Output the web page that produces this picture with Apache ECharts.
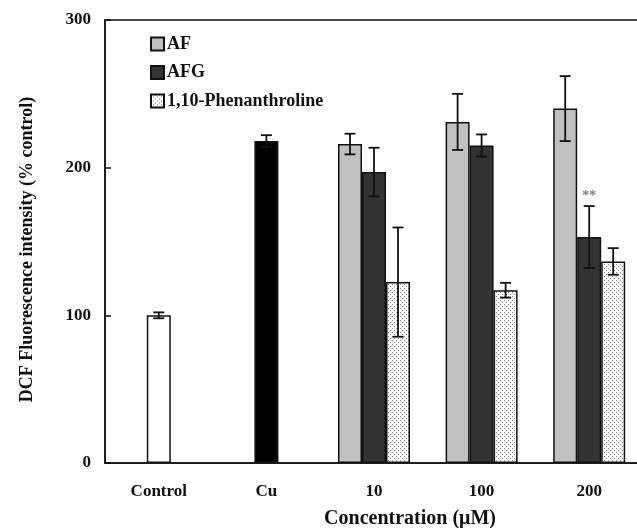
<!DOCTYPE html>
<html>
<head>
<meta charset="utf-8">
<script src="https://cdn.jsdelivr.net/npm/echarts@6/dist/echarts.min.js"></script>
<style>html,body{margin:0;padding:0;background:#fff;}#c{width:637px;height:528px;}</style>
</head>
<body>
<div id="c"></div>
<script>
// ---- data ----
var categories = ['Control', 'Cu', '10', '100', '200'];
var controlVal = [100, '-', '-', '-', '-'];
var controlErr = [2, null, null, null, null];
var cuVal = ['-', 218, '-', '-', '-'];
var cuErr = [null, 4, null, null, null];
var afVal = ['-', '-', 216, 231, 240];
var afErr = [null, null, 7, 19, 22];
var afgVal = ['-', '-', 197, 215, 153];
var afgErr = [null, null, 16.5, 7.5, 21];
var phenVal = ['-', '-', 122.5, 117, 136.5];
var phenErr = [null, null, 37, 5, 9];
var afgSig = ['', '', '', '', '**'];
var yTicks = [0, 100, 200, 300];

var FONT = '"Liberation Serif", "Times New Roman", serif';
var BAR_W = 24;

// dotted pattern
var pc = document.createElement('canvas');
pc.width = 4; pc.height = 4;
var pctx = pc.getContext('2d');
pctx.fillStyle = '#ffffff'; pctx.fillRect(0, 0, 4, 4);
pctx.fillStyle = '#7a7a7a';
pctx.fillRect(0, 0, 1, 1);
pctx.fillRect(2, 2, 1, 1);
var dotPattern = { image: pc, repeat: 'repeat' };

function errRows(vals, errs, slot, sig) {
  var rows = [];
  for (var i = 0; i < vals.length; i++) {
    if (vals[i] === '-' || errs[i] == null) continue;
    rows.push([i, vals[i], errs[i], slot, sig ? sig[i] : '']);
  }
  return rows;
}
var errData = []
  .concat(errRows(controlVal, controlErr, 0))
  .concat(errRows(cuVal, cuErr, 0))
  .concat(errRows(afVal, afErr, -1))
  .concat(errRows(afgVal, afgErr, 0, afgSig))
  .concat(errRows(phenVal, phenErr, 1));

var chart = echarts.init(document.getElementById('c'));
var borderStyle = { borderColor: '#111', borderWidth: 1.5 };

chart.setOption({
  animation: false,
  backgroundColor: '#fff',
  grid: { left: 105, top: 20, width: 538, bottom: 65, show: true, borderColor: '#111', borderWidth: 1.5,
    backgroundColor: 'transparent', outerBoundsMode: 'none', containLabel: false },
  legend: {
    orient: 'vertical', left: 145, top: 30, itemWidth: 13, itemHeight: 13, itemGap: 10.5,
    icon: 'rect',
    textStyle: { fontFamily: FONT, fontWeight: 'bold', fontSize: 18, color: '#111', padding: [0, 0, 0, -2] },
    data: ['AF', 'AFG', '1,10-Phenanthroline']
  },
  xAxis: {
    type: 'category', data: categories,
    axisLine: { lineStyle: { color: '#111', width: 1.5 } },
    axisTick: { inside: true, length: 6, lineStyle: { color: '#111', width: 1.5 } },
    axisLabel: { fontFamily: FONT, fontWeight: 'bold', fontSize: 17, color: '#111', margin: 20 },
    name: 'Concentration (μM)', nameLocation: 'middle', nameGap: 46,
    nameTextStyle: { fontFamily: FONT, fontWeight: 'bold', fontSize: 20, color: '#111', padding: [0, 0, 0, 72] }
  },
  yAxis: {
    type: 'value', min: 0, max: 300, interval: 100,
    axisLine: { show: true, lineStyle: { color: '#111', width: 1.5 } },
    axisTick: { show: true, inside: true, length: 6, lineStyle: { color: '#111', width: 1.5 } },
    splitLine: { show: false },
    axisLabel: { fontFamily: FONT, fontWeight: 'bold', fontSize: 17, color: '#111', margin: 14,
      formatter: function (v) { return yTicks.indexOf(v) >= 0 ? String(v) : ''; } },
    name: 'DCF Fluorescence intensity (% control)', nameLocation: 'middle', nameGap: 69,
    nameTextStyle: { fontFamily: FONT, fontWeight: 'bold', fontSize: 18, color: '#111', padding: [0, 16, 0, 0] }
  },
  series: [
    { name: 'AF', type: 'bar', data: afVal, barWidth: BAR_W, barGap: '0%',
      itemStyle: Object.assign({ color: '#c0c0c0' }, borderStyle) },
    { name: 'Control', type: 'bar', stack: 'mid', data: controlVal, barWidth: BAR_W, barGap: '0%',
      itemStyle: Object.assign({ color: '#ffffff' }, borderStyle) },
    { name: 'Cu', type: 'bar', stack: 'mid', data: cuVal, barWidth: BAR_W, barGap: '0%',
      itemStyle: Object.assign({ color: '#000000' }, borderStyle) },
    { name: 'AFG', type: 'bar', stack: 'mid', data: afgVal, barWidth: BAR_W, barGap: '0%',
      itemStyle: Object.assign({ color: '#333333' }, borderStyle) },
    { name: '1,10-Phenanthroline', type: 'bar', data: phenVal, barWidth: BAR_W, barGap: '0%',
      itemStyle: Object.assign({ color: dotPattern }, borderStyle) },
    { name: 'err', type: 'custom', data: errData, z: 10,
      encode: { x: 0, y: 1 },
      renderItem: function (params, api) {
        var cat = api.value(0), mean = api.value(1), err = api.value(2), slot = api.value(3);
        var sig = errData[params.dataIndex][4];
        var hi = api.coord([cat, mean + err]);
        var lo = api.coord([cat, mean - err]);
        var x = hi[0] + slot * BAR_W;
        var cap = 5.5;
        var st = { stroke: '#111', lineWidth: 1.8 };
        var children = [
          { type: 'line', shape: { x1: x, y1: hi[1], x2: x, y2: lo[1] }, style: st },
          { type: 'line', shape: { x1: x - cap, y1: hi[1], x2: x + cap, y2: hi[1] }, style: st },
          { type: 'line', shape: { x1: x - cap, y1: lo[1], x2: x + cap, y2: lo[1] }, style: st }
        ];
        if (sig) {
          children.push({ type: 'text', style: { text: sig, x: x, y: hi[1] - 3, align: 'center', verticalAlign: 'bottom',
            fill: '#808080', font: 'bold 14px ' + FONT } });
        }
        return { type: 'group', children: children };
      }
    }
  ]
});
</script>
</body>
</html>
